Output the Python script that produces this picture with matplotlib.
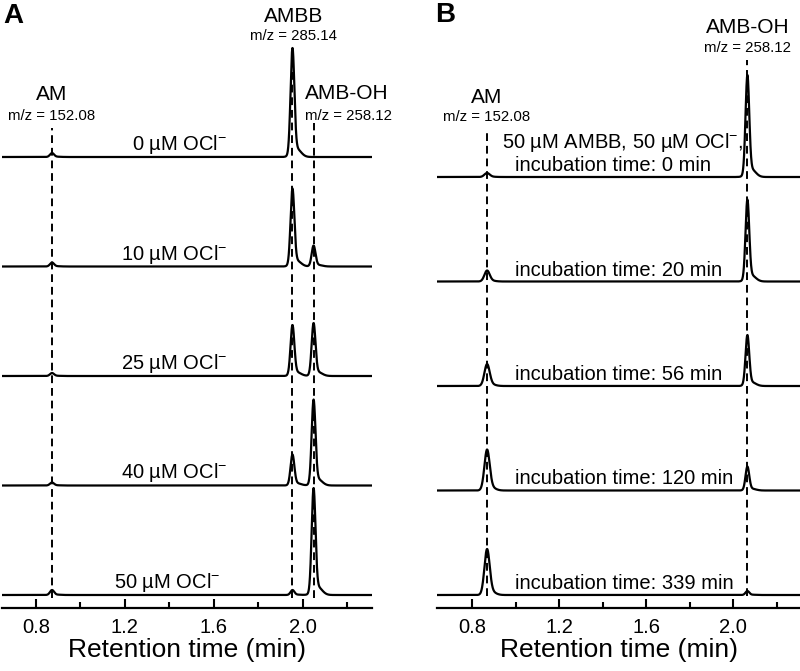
import numpy as np
import matplotlib
matplotlib.use('Agg')
import matplotlib.pyplot as plt

plt.rcParams['font.family'] = ['Liberation Sans', 'DejaVu Sans']
plt.rcParams['mathtext.fontset'] = 'custom'
plt.rcParams['mathtext.rm'] = 'Liberation Sans'
plt.rcParams['mathtext.it'] = 'Liberation Sans:italic'
plt.rcParams['mathtext.bf'] = 'Liberation Sans:bold'
plt.rcParams['mathtext.default'] = 'rm'

# panel A - traces top to bottom, peak heights (a.u.)
conc_a = ['0 µM OCl$^{-}$', '10 µM OCl$^{-}$', '25 µM OCl$^{-}$', '40 µM OCl$^{-}$', '50 µM OCl$^{-}$']
am_a = [4, 4, 3, 3, 5]
ambb_a = [109, 78, 51, 31, 5]
amboh_a = [0, 21, 53, 86, 107]
rt_a = [0.872, 1.954, 2.049]   # AM, AMBB, AMB-OH retention times (min)

# panel B - incubation series
time_b = ['incubation time: 0 min', 'incubation time: 20 min', 'incubation time: 56 min',
          'incubation time: 120 min', 'incubation time: 339 min']
am_b = [4, 11, 22, 41, 46]
amboh_b = [102, 82, 51, 24, 4]
rt_b = [0.868, 2.065]          # AM, AMB-OH


def peak(t, t0, h, w):
    # gaussian with a small tail on the right side
    main = np.exp(-0.5 * ((t - t0) / w) ** 2)
    tail = 0.08 * np.exp(-0.5 * ((t - t0 - 0.018) / 0.02) ** 2)
    return h * (main + tail) / (1 + 0.08 * np.exp(-0.5 * 0.81))


def style_axis(ax, xlim):
    ax.set_xlim(*xlim)
    ax.set_ylim(0, 608)
    for s in ['left', 'right', 'top']:
        ax.spines[s].set_visible(False)
    ax.spines['bottom'].set_linewidth(1.6)
    ax.set_yticks([])
    ax.set_xticks([0.8, 1.2, 1.6, 2.0])
    ax.set_xticks([1.0, 1.4, 1.8, 2.2], minor=True)
    ax.tick_params(axis='x', which='major', direction='in', length=6.5, width=1.5,
                   labelsize=14.5, pad=7)
    ax.tick_params(axis='x', which='minor', direction='in', length=4, width=1.5)
    ax.set_xlabel('Retention time (min)', fontsize=19, labelpad=1)
    ax.patch.set_visible(False)


dash = (0, (4, 2.5))
lw = 1.6

fig = plt.figure(figsize=(8, 6.71), dpi=100)
ax1 = fig.add_axes([2 / 800, 63 / 671, 370 / 800, 608 / 671])
ax2 = fig.add_axes([437 / 800, 63 / 671, 363 / 800, 608 / 671])

# ---- A ----
xa = (0.647, 2.312)
style_axis(ax1, xa)
t = np.linspace(xa[0], xa[1], 3000)
offs_a = 13 + 109.5 * np.arange(5)[::-1]
for i in range(5):
    y = (peak(t, rt_a[0], am_a[i], 0.009) + peak(t, rt_a[1], ambb_a[i], 0.0085)
         + peak(t, rt_a[2], amboh_a[i], 0.0085))
    ax1.plot(t, y + offs_a[i], color='k', lw=lw)
    xr = 1.629 if i == 4 else 1.660
    ax1.text(xr, offs_a[i] + 7, conc_a[i], ha='right', va='baseline', fontsize=14.5)

ax1.plot([rt_a[0], rt_a[0]], [10, 480], color='k', lw=1.4, ls=dash)
ax1.plot([rt_a[1], rt_a[1]], [10, 560], color='k', lw=1.4, ls=dash)
ax1.plot([rt_a[2], rt_a[2]], [10, 485], color='k', lw=1.4, ls=dash)

ax1.text(rt_a[0], 608 - 100, 'AM', ha='center', va='baseline', fontsize=15)
ax1.text(rt_a[0], 608 - 120, 'm/z = 152.08', ha='center', va='baseline', fontsize=10.8)
ax1.text(1.958, 608 - 22, 'AMBB', ha='center', va='baseline', fontsize=15)
ax1.text(1.958, 608 - 40, 'm/z = 285.14', ha='center', va='baseline', fontsize=10.8)
ax1.text(2.200, 608 - 99, 'AMB-OH', ha='center', va='baseline', fontsize=15)
ax1.text(2.204, 608 - 120, 'm/z = 258.12', ha='center', va='baseline', fontsize=10.8)

# ---- B ----
xb = (0.638, 2.307)
style_axis(ax2, xb)
t = np.linspace(xb[0], xb[1], 3000)
offs_b = 13 + 104.5 * np.arange(5)[::-1]
for i in range(5):
    y = peak(t, rt_b[0], am_b[i], 0.012) + peak(t, rt_b[1], amboh_b[i], 0.0085)
    ax2.plot(t, y + offs_b[i], color='k', lw=lw)
    ax2.text(0.997, offs_b[i] + 6, time_b[i], ha='left', va='baseline', fontsize=14.5)
ax2.text(0.937, 608 - 148, '50 µM AMBB, 50 µM OCl$^{-}$,', ha='left', va='baseline', fontsize=14.5)

ax2.plot([rt_b[0], rt_b[0]], [12, 475], color='k', lw=1.4, ls=dash)
ax2.plot([rt_b[1], rt_b[1]], [12, 548], color='k', lw=1.4, ls=dash)

ax2.text(rt_b[0], 608 - 103, 'AM', ha='center', va='baseline', fontsize=15)
ax2.text(rt_b[0], 608 - 121, 'm/z = 152.08', ha='center', va='baseline', fontsize=10.8)
ax2.text(rt_b[1], 608 - 33, 'AMB-OH', ha='center', va='baseline', fontsize=15)
ax2.text(rt_b[1], 608 - 52, 'm/z = 258.12', ha='center', va='baseline', fontsize=10.8)

fig.text(3 / 800, 1 - 23 / 671, 'A', fontsize=20, fontweight='bold', va='baseline')
fig.text(435 / 800, 1 - 22 / 671, 'B', fontsize=20, fontweight='bold', va='baseline')

fig.savefig('out.png', dpi=100)
